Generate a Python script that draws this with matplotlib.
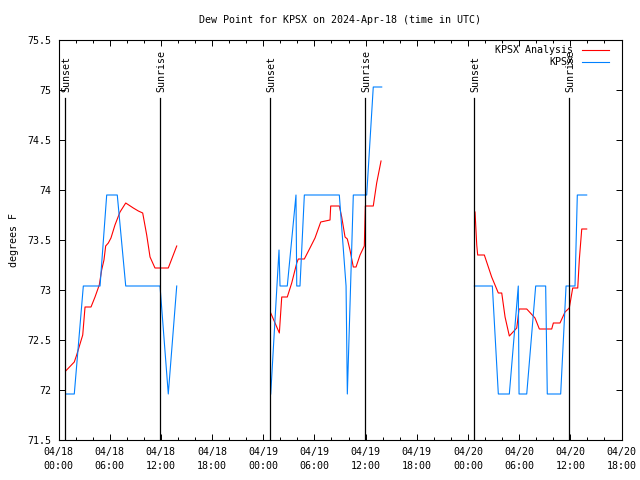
import numpy as np
import matplotlib.pyplot as plt
from matplotlib.ticker import MultipleLocator

# hours since 2024-04-18 00:00 UTC, nan = gap between nights
analysis_hours = [0.84, 1.85, 2.13, 2.84, 3.11, 3.81, 4.28, 4.78, 5.06, 5.33, 5.53, 5.84,
                  6.15, 6.62, 7.21, 7.88, 8.77, 9.36, 9.87, 10.34, 10.73, 11.31, 12.87, 13.86,
                  np.nan,
                  24.88, 25.89, 26.17, 26.82, 27.34, 27.93, 28.11, 28.82, 29.48, 30.07, 30.74,
                  31.83, 31.91, 32.92, 33.20, 33.59, 33.86, 34.17, 34.56, 34.88, 35.35, 35.85,
                  35.97, 36.90, 37.30, 37.81,
                  np.nan,
                  48.83, 49.03, 49.14, 49.92, 50.78, 51.56, 51.96, 52.35, 52.85, 53.72, 53.99,
                  54.89, 55.86, 56.37, 57.82, 58.01, 58.79, 59.38, 59.88, 60.28, 60.87, 61.06,
                  61.34, 61.92]
analysis_dewp = [72.19, 72.28, 72.35, 72.55, 72.83, 72.83, 72.93, 73.05, 73.20, 73.30, 73.44, 73.47,
                 73.52, 73.65, 73.78, 73.87, 73.82, 73.79, 73.77, 73.55, 73.33, 73.22, 73.22, 73.44,
                 np.nan,
                 72.77, 72.57, 72.93, 72.93, 73.07, 73.27, 73.31, 73.31, 73.42, 73.52, 73.68,
                 73.70, 73.84, 73.84, 73.73, 73.53, 73.51, 73.40, 73.23, 73.23, 73.35, 73.44,
                 73.84, 73.84, 74.07, 74.29,
                 np.nan,
                 73.78, 73.45, 73.35, 73.35, 73.13, 72.97, 72.97, 72.73, 72.54, 72.62, 72.81,
                 72.81, 72.72, 72.61, 72.61, 72.67, 72.67, 72.78, 72.82, 73.02, 73.02, 73.31,
                 73.61, 73.61]

obs_hours = [0.84, 1.85, 2.91, 4.87, 5.65, 6.89, 7.88, 11.90, 12.87, 13.86,
             np.nan,
             24.88, 25.85, 25.97, 26.82, 27.84, 27.93, 28.31, 28.82, 32.92, 33.71, 33.86,
             34.56, 36.13, 36.90, 37.89,
             np.nan,
             48.75, 50.86, 51.56, 52.85, 53.90, 53.99, 54.89, 55.94, 57.11, 57.30, 58.87,
             59.50, 60.55, 60.82, 61.92]
obs_dewp = [71.96, 71.96, 73.04, 73.04, 73.95, 73.95, 73.04, 73.04, 71.96, 73.04,
            np.nan,
            71.96, 73.40, 73.04, 73.04, 73.95, 73.04, 73.04, 73.95, 73.95, 73.04, 71.96,
            73.95, 73.95, 75.03, 75.03,
            np.nan,
            73.04, 73.04, 71.96, 71.96, 73.04, 71.96, 71.96, 73.04, 73.04, 71.96, 71.96,
            73.04, 73.04, 73.95, 73.95]

sunset_hours = [0.80, 24.83, 48.75]
sunrise_hours = [11.93, 35.97, 59.90]

tick_hours = list(range(0, 67, 6))
tick_labels = ['04/18\n00:00', '04/18\n06:00', '04/18\n12:00', '04/18\n18:00',
               '04/19\n00:00', '04/19\n06:00', '04/19\n12:00', '04/19\n18:00',
               '04/20\n00:00', '04/20\n06:00', '04/20\n12:00', '04/20\n18:00']

plt.rcParams['font.family'] = 'DejaVu Sans Mono'
plt.rcParams['font.size'] = 7.2

fig = plt.figure(figsize=(6.4, 4.8), dpi=100)
ax = fig.add_axes([58.5 / 640, 40 / 480, 563 / 640, 400 / 480])

red = '#ff0000'
blue = '#0080ff'

ax.plot(analysis_hours, analysis_dewp, color=red, lw=0.8)
ax.plot(obs_hours, obs_dewp, color=blue, lw=0.8)

# sunrise / sunset markers
for h in sunset_hours:
    ax.plot([h, h], [71.5, 74.92], color='black', lw=0.9)
    ax.text(h + 0.15, 74.98, 'Sunset', rotation=90, ha='center', va='bottom')
for h in sunrise_hours:
    ax.plot([h, h], [71.5, 74.92], color='black', lw=0.9)
    ax.text(h + 0.15, 74.98, 'Sunrise', rotation=90, ha='center', va='bottom')

ax.set_xlim(0, 66)
ax.set_ylim(71.5, 75.5)
ax.set_xticks(tick_hours)
ax.set_xticklabels(tick_labels, linespacing=1.45)
ax.xaxis.set_minor_locator(MultipleLocator(2))
ax.yaxis.set_major_locator(MultipleLocator(0.5))
ax.yaxis.set_major_formatter(plt.FuncFormatter(lambda v, p: f'{v:g}'))

ax.tick_params(which='both', direction='in', top=True, right=True, width=0.7)
ax.tick_params(which='major', length=4, pad=5)
ax.tick_params(which='minor', length=2.2)
for s in ax.spines.values():
    s.set_linewidth(0.8)

ax.set_ylabel('degrees F', labelpad=6)
ax.text(0.5, 1 + 20 / 400, 'Dew Point for KPSX on 2024-Apr-18 (time in UTC)',
        transform=ax.transAxes, ha='center', va='center')

# key, top right like gnuplot
for i, (name, col) in enumerate([('KPSX Analysis', red), ('KPSX', blue)]):
    y = 0.975 - i * 0.031
    ax.text(0.914, y, name, transform=ax.transAxes, ha='right', va='center')
    ax.plot([0.930, 0.978], [y, y], color=col, lw=0.8, transform=ax.transAxes)

fig.savefig('out.png', dpi=100)
